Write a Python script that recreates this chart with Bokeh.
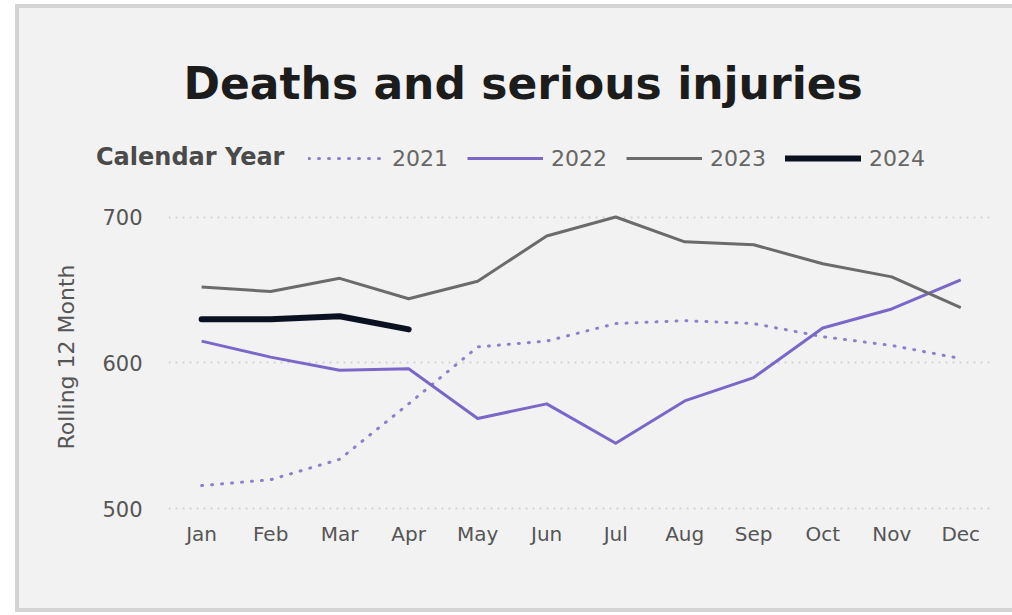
from bokeh.plotting import figure
from bokeh.layouts import column
from bokeh.models import Range1d, FixedTicker, Legend, LegendItem, Title
from bokeh.embed import file_html
from bokeh.resources import INLINE

months = ["Jan", "Feb", "Mar", "Apr", "May", "Jun", "Jul", "Aug", "Sep", "Oct", "Nov", "Dec"]
y2021 = [516, 520, 534, 572, 611, 615, 627, 629, 627, 618, 612, 603]
y2022 = [615, 604, 595, 596, 562, 572, 545, 574, 590, 624, 637, 657]
y2023 = [652, 649, 658, 644, 656, 687, 700, 683, 681, 668, 659, 638]
y2024 = [630, 630, 632, 623]
series_names = ["2021", "2022", "2023", "2024"]
y_ticks = [500, 600, 700]

FONT = "DejaVu Sans"
BG = "#f2f2f2"

x = list(range(len(months)))
series = [(x, y2021), (x, y2022), (x, y2023), (x[:len(y2024)], y2024)]
styles = [
    dict(line_color="#8a80cc", line_width=3, line_dash="1 9", line_cap="round"),
    dict(line_color="#7b67c8", line_width=3, line_join="round"),
    dict(line_color="#6b6b6b", line_width=3, line_join="round"),
    dict(line_color="#0c1122", line_width=6, line_join="round", line_cap="round"),
]

# ---------- header: title + legend ----------
head = figure(width=993, height=190, output_backend="svg", toolbar_location=None,
              x_range=Range1d(0, 1), y_range=Range1d(0, 1),
              min_border_left=0, min_border_right=0, min_border_top=120, min_border_bottom=0,
              background_fill_color=BG, border_fill_color=BG, outline_line_color=None)
head.axis.visible = False
head.grid.visible = False
head.title = Title(text="Deaths and serious injuries", text_font=FONT, text_font_size="44px",
                   text_font_style="bold", text_color="#1c1c1c", align="left", offset=164, standoff=40)

# legend proxies: same series, drawn outside the header's visible range
proxies = [head.line(sx, sy, **st) for (sx, sy), st in zip(series, styles)]
r_none = head.line(x, y2021, line_alpha=0)

common = dict(orientation="horizontal", padding=0, margin=0, spacing=15,
              label_text_font=FONT, label_text_font_size="22px",
              glyph_height=26, label_height=26,
              background_fill_alpha=0, border_line_color=None)

leg_years = Legend(items=[LegendItem(label=n, renderers=[r]) for n, r in zip(series_names, proxies)],
                   location=(289, 27), label_text_color="#666666",
                   glyph_width=76, label_standoff=8, label_width=60, **common)
head.add_layout(leg_years, "center")

leg_cal = Legend(items=[LegendItem(label="Calendar Year", renderers=[r_none])],
                 location=(77, 27), label_text_color="#4a4a4a", label_text_font_style="bold",
                 glyph_width=0, label_standoff=0, **common)
leg_cal.label_text_font_size = "24px"
head.add_layout(leg_cal, "center")

# ---------- main chart ----------
p = figure(width=993, height=410, output_backend="svg", toolbar_location=None,
           x_range=Range1d(-0.48, 11.46), y_range=Range1d(495.5, 712.7),
           min_border_left=149, min_border_right=20, min_border_top=0, min_border_bottom=93,
           background_fill_color=BG, border_fill_color=BG, outline_line_color=None)
p.title.visible = False
p.title.standoff = 0

for (sx, sy), st in zip(series, styles):
    p.line(sx, sy, **st)

p.xaxis.ticker = FixedTicker(ticks=x)
p.xaxis.major_label_overrides = {i: m for i, m in enumerate(months)}
p.yaxis.ticker = FixedTicker(ticks=y_ticks)
for ax in (p.xaxis[0], p.yaxis[0]):
    ax.axis_line_color = None
    ax.major_tick_line_color = None
    ax.minor_tick_line_color = None
    ax.major_label_text_font = FONT
    ax.major_label_text_color = "#555555"
p.xaxis.major_label_text_font_size = "20px"
p.xaxis.major_label_standoff = 0
p.yaxis.major_label_text_font_size = "21px"
p.yaxis.major_label_standoff = 20
p.yaxis.axis_label = "Rolling 12 Month"
p.yaxis.axis_label_text_font = FONT
p.yaxis.axis_label_text_font_style = "normal"
p.yaxis.axis_label_text_font_size = "22px"
p.yaxis.axis_label_text_color = "#555555"
p.yaxis.axis_label_standoff = 20

p.xgrid.grid_line_color = None
p.ygrid.grid_line_color = "#d4d4d4"
p.ygrid.grid_line_width = 2
p.ygrid.grid_line_dash = "2 5"

for fig in (head, p):
    try:
        fig.frame_align = False
    except Exception:
        pass

layout = column(head, p, spacing=0)
layout.styles = {"margin-left": "15px", "margin-top": "4px",
                 "border-left": "4px solid #d3d3d3", "border-top": "4px solid #d3d3d3",
                 "border-bottom": "4px solid #d3d3d3", "background-color": BG}

open("out.html", "w").write(file_html(layout, INLINE))
